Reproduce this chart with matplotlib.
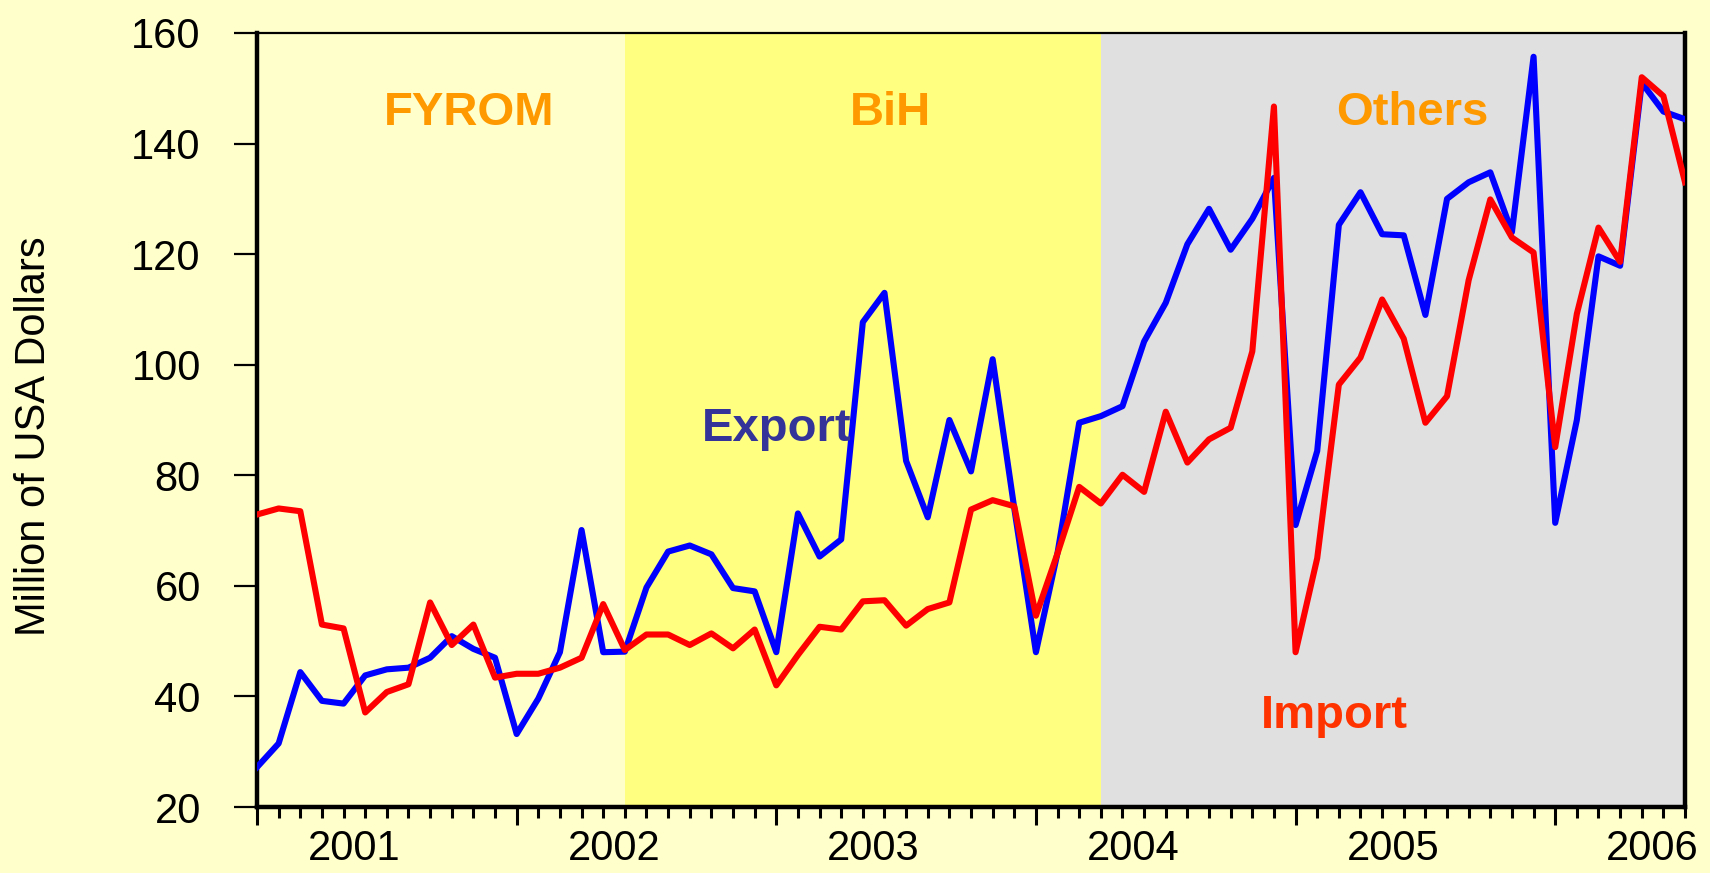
import numpy as np
import matplotlib
matplotlib.use('Agg')
from matplotlib import pyplot as plt

# ---DATA--- monthly, Sep 2000 .. Mar 2006 (million USD)
export = [27.2, 31.5, 44.4, 39.2, 38.7, 43.8, 44.9, 45.2, 47.0, 50.9, 48.6, 47.0,
          33.2, 39.6, 48.0, 70.1, 48.0, 48.1, 59.7, 66.2, 67.3, 65.7, 59.6, 59.0,
          48.0, 73.1, 65.3, 68.4, 107.7, 113.0, 82.6, 72.4, 90.0, 80.7, 101.0, 74.0,
          48.0, 66.0, 89.5, 90.7, 92.5, 104.2, 111.2, 121.8, 128.2, 120.8, 126.4, 133.8,
          71.0, 84.4, 125.3, 131.2, 123.6, 123.4, 109.0, 130.0, 133.0, 134.8, 124.0, 155.7,
          71.4, 90.0, 119.6, 117.9, 151.0, 145.8, 144.4]
imports = [72.9, 74.0, 73.5, 53.0, 52.3, 37.1, 40.8, 42.2, 57.0, 49.3, 53.0, 43.4,
           44.1, 44.1, 45.2, 47.0, 56.7, 48.4, 51.2, 51.2, 49.3, 51.4, 48.7, 52.1,
           42.0, 47.5, 52.6, 52.1, 57.2, 57.4, 52.8, 55.8, 57.0, 73.8, 75.5, 74.4,
           54.6, 65.9, 77.9, 74.9, 80.1, 77.0, 91.5, 82.3, 86.5, 88.6, 102.4, 146.7,
           48.0, 65.0, 96.4, 101.3, 111.8, 104.7, 89.5, 94.3, 115.3, 129.9, 123.0, 120.3,
           85.1, 109.2, 124.8, 118.6, 152.0, 148.6, 133.0]
years = ['2001', '2002', '2003', '2004', '2005', '2006']
regions = ['FYROM', 'BiH', 'Others']
region_edges = [0, 17, 39, 66]   # month index where each partner period starts/ends
yticks = [20, 40, 60, 80, 100, 120, 140, 160]

months = np.arange(len(export))

plt.rcParams['font.family'] = ['Liberation Sans', 'DejaVu Sans']

fig = plt.figure(figsize=(17.1, 8.73), dpi=100, facecolor='#FFFFCC')
ax = fig.add_axes([0.1503, 0.0756, 0.8351, 0.8866])

# shaded periods
shade = ['#FFFFCC', '#FFFF80', '#E0E0E0']
for k in range(3):
    ax.axvspan(region_edges[k], region_edges[k + 1], color=shade[k], lw=0, zorder=0)

ax.plot(months, export, color='#0000FF', lw=4.4, zorder=3)
ax.plot(months, imports, color='#FF0000', lw=4.4, zorder=4)

ax.set_xlim(0, len(export) - 1)
ax.set_ylim(20, 160)

# region names and series labels
label_x = [9.8, 29.3, 53.4]
for name, xpos in zip(regions, label_x):
    ax.text(xpos, 143.4, name, color='#FF9900', fontsize=34, fontweight='bold',
            ha='center', va='baseline', zorder=5)
ax.text(24.0, 86.2, 'Export', color='#333399', fontsize=34, fontweight='bold',
        ha='center', va='baseline', zorder=5)
ax.text(49.8, 34.2, 'Import', color='#FF3300', fontsize=34, fontweight='bold',
        ha='center', va='baseline', zorder=5)

# y axis
ax.set_yticks(yticks)
ax.tick_params(axis='y', direction='out', length=16.5, width=1.6, labelsize=30, pad=24)
ax.tick_params(axis='y', right=False)

# x axis: long ticks every 12 months, short ones every month
ax.set_xticks(months[::12])
ax.set_xticks(months, minor=True)
ax.tick_params(axis='x', which='major', direction='out', length=13, width=2.2, labelbottom=False)
ax.tick_params(axis='x', which='minor', direction='out', length=8, width=2.2)

sec = ax.secondary_xaxis('bottom')
sec.set_xticks([4.5 + 12 * k for k in range(len(years))], labels=years)
sec.tick_params(length=0, labelsize=30, pad=16)
sec.spines['bottom'].set_visible(False)

for side in ['left', 'bottom', 'right']:
    ax.spines[side].set_linewidth(3.2)
ax.spines['top'].set_linewidth(1.6)

fig.text(34 / 1710, 0.5, 'Million of USA Dollars', rotation=90, fontsize=30,
         ha='center', va='center')

fig.savefig('out.png', dpi=100, facecolor=fig.get_facecolor())
